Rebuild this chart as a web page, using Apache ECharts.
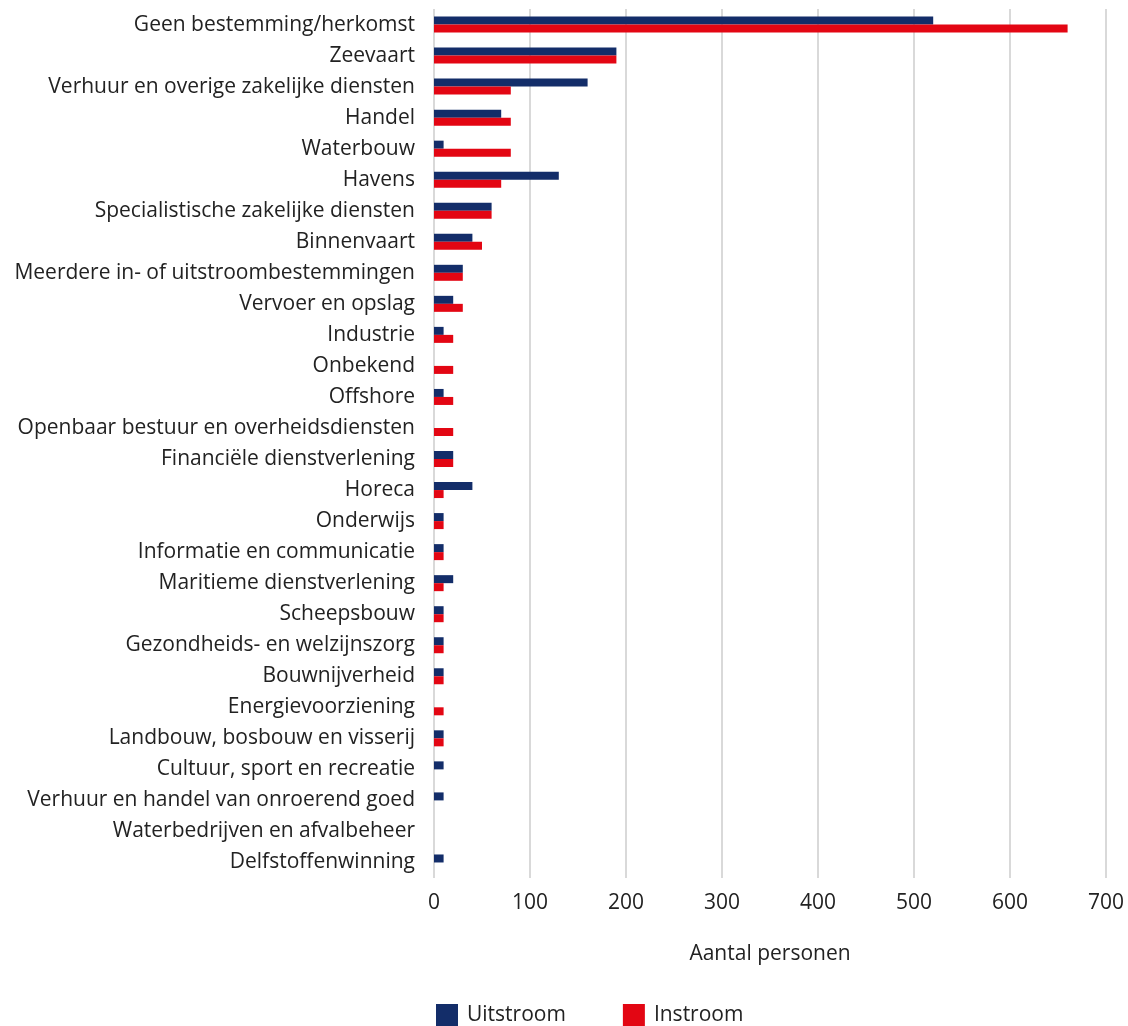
<!DOCTYPE html>
<html><head><meta charset="utf-8">
<script src="https://cdn.jsdelivr.net/npm/echarts@6/dist/echarts.min.js"></script>
<style>html,body{margin:0;padding:0;background:#fff}#c{width:1128px;height:1026px}</style>
</head><body><div id="c"></div>
<script>
const categories = ["Geen bestemming/herkomst","Zeevaart","Verhuur en overige zakelijke diensten","Handel","Waterbouw","Havens","Specialistische zakelijke diensten","Binnenvaart","Meerdere in- of uitstroombestemmingen","Vervoer en opslag","Industrie","Onbekend","Offshore","Openbaar bestuur en overheidsdiensten","Financiële dienstverlening","Horeca","Onderwijs","Informatie en communicatie","Maritieme dienstverlening","Scheepsbouw","Gezondheids- en welzijnszorg","Bouwnijverheid","Energievoorziening","Landbouw, bosbouw en visserij","Cultuur, sport en recreatie","Verhuur en handel van onroerend goed","Waterbedrijven en afvalbeheer","Delfstoffenwinning"];
const uitstroom = [520,190,160,70,10,130,60,40,30,20,10,0,10,0,20,40,10,10,20,10,10,10,0,10,10,10,0,10];
const instroom = [660,190,80,80,80,70,60,50,30,30,20,20,20,20,20,10,10,10,10,10,10,10,10,10,0,0,0,0];
const xTicks = [0,100,200,300,400,500,600,700];

const chart = echarts.init(document.getElementById('c'));
const font = '"Open Sans", "Noto Sans", sans-serif';
chart.setOption({
  animation:false,
  textStyle:{fontFamily:font},
  grid:{left:434,right:22,top:9,bottom:148,containLabel:false},
  legend:{left:431,top:999,itemWidth:22,itemHeight:22,itemGap:57,icon:'rect',
    textStyle:{fontFamily:font,fontSize:21,color:'#222',padding:[0,0,0,4]},
    data:['Uitstroom','Instroom']},
  xAxis:{type:'value',min:xTicks[0],max:xTicks[xTicks.length-1],interval:100,
    name:'Aantal personen',nameLocation:'middle',nameGap:66,
    nameTextStyle:{fontFamily:font,fontSize:21,color:'#222'},
    axisLine:{show:false},axisTick:{show:false},
    axisLabel:{fontFamily:font,fontSize:21,color:'#222',margin:15},
    splitLine:{show:true,lineStyle:{color:'#d9d9d9',width:2}}},
  yAxis:{type:'category',data:categories,inverse:true,
    axisLine:{show:false},axisTick:{show:false},
    axisLabel:{fontFamily:font,fontSize:21,color:'#222',margin:19}},
  series:[
    {name:'Uitstroom',type:'bar',data:uitstroom,barWidth:8,barGap:'0%',itemStyle:{color:'#132d69'}},
    {name:'Instroom',type:'bar',data:instroom,barWidth:8,barGap:'0%',itemStyle:{color:'#e30613'}}
  ]
});
</script></body></html>
